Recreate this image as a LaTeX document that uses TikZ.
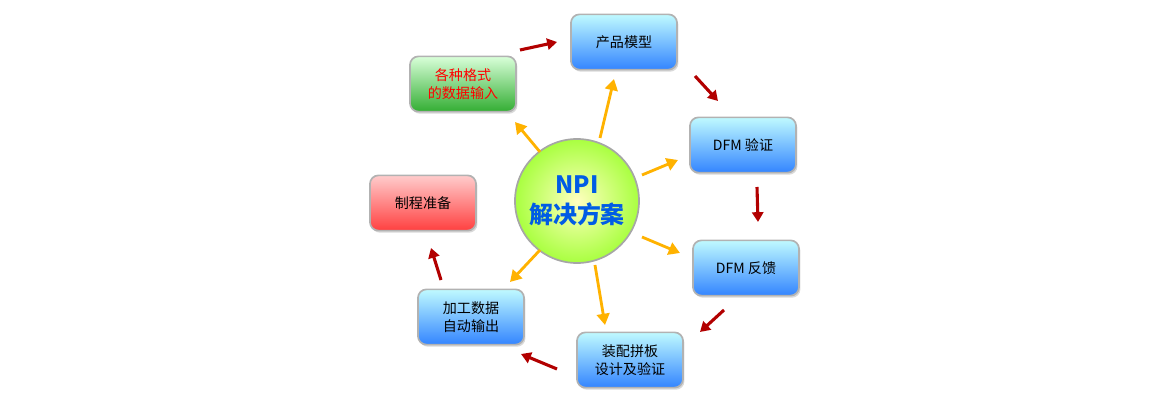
\documentclass[tikz,border=0pt]{standalone}
\usepackage{fontspec}
\setmainfont{Noto Sans CJK SC}
\usetikzlibrary{arrows.meta,shadows}
\tikzset{
  stepbox/.style={draw=gray!60,line width=1.2pt,rounded corners=6pt,minimum width=2.65cm,minimum height=1.38cm,
    align=center,font=\fontsize{10}{13}\selectfont,drop shadow={opacity=0.3,shadow xshift=1pt,shadow yshift=-1.5pt}},
  bluebox/.style={stepbox,top color=blue!8!cyan!25,bottom color=blue!60!cyan!80,text=black},
  greenbox/.style={stepbox,top color=green!15,bottom color=green!60!black!80,text=red},
  redbox/.style={stepbox,top color=red!20,bottom color=red!75,text=black},
  flowarrow/.style={-{Triangle[length=7pt,width=8pt]},line width=2.2pt,red!70!black},
  hubarrow/.style={-{Triangle[length=8pt,width=9pt]},line width=2pt,orange!60!yellow},
}
\begin{document}
\begin{tikzpicture}[x=0.025cm,y=-0.025cm]
\useasboundingbox (0,0) rectangle (1160,400);

% hub
\node[circle,draw=gray!70,line width=1.2pt,minimum size=3.1cm,inner color=yellow!25,outer color=yellow!55!green!75,
  font=\bfseries\fontsize{17}{21}\selectfont,text=blue!60!cyan!90!black,align=center] (hub) at (577,201) {NPI\\解决方案};

% steps
\node[bluebox] (model) at (624,42) {产品模型};
\node[greenbox] (input) at (463,84) {各种格式\\的数据输入};
\node[bluebox] (check) at (743,145) {DFM 验证};
\node[redbox] (prep) at (423,203) {制程准备};
\node[bluebox] (feedback) at (746,268) {DFM 反馈};
\node[bluebox] (output) at (471,317) {加工数据\\自动输出};
\node[bluebox] (panel) at (630,360) {装配拼板\\设计及验证};

% flow
\draw[flowarrow] (520,50) -- (557,42);
\draw[flowarrow] (695,76) -- (718,101);
\draw[flowarrow] (757,187) -- (758,222);
\draw[flowarrow] (724,310) -- (700,332);
\draw[flowarrow] (557,369) -- (521,354);
\draw[flowarrow] (441,280) -- (431,248);

% from hub
\draw[hubarrow] (600,138) -- (614,79);
\draw[hubarrow] (540,152) -- (515,122);
\draw[hubarrow] (642,175) -- (678,160);
\draw[hubarrow] (642,237) -- (680,253);
\draw[hubarrow] (595,265) -- (605,325);
\draw[hubarrow] (540,250) -- (510,282);
\end{tikzpicture}
\end{document}
